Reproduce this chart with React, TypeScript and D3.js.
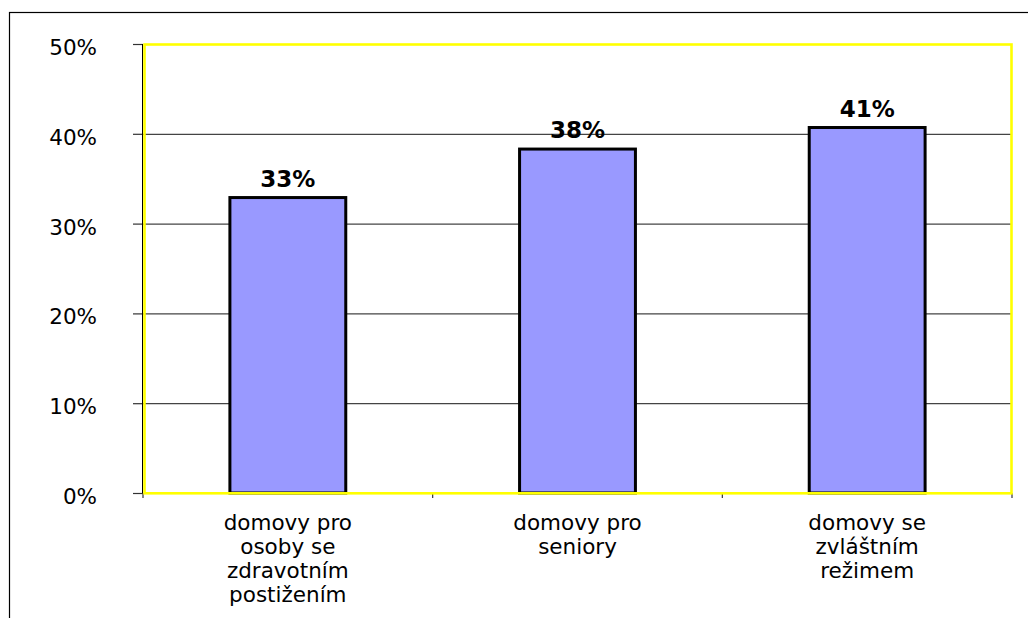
import React from "react";
import * as d3 from "d3";

const categories: string[][] = [
  ["domovy pro", "osoby se", "zdravotním", "postižením"],
  ["domovy pro", "seniory"],
  ["domovy se", "zvláštním", "režimem"],
];
const values: number[] = [32.9, 38.3, 40.7];
const valueLabels: string[] = ["33%", "38%", "41%"];
const yTicks: number[] = [0, 10, 20, 30, 40, 50];

const W = 1028;
const H = 618;
const left = 143;
const right = 1012;
const top = 44;
const bottom = 493;
const font = "'DejaVu Sans', Verdana, sans-serif";

export default function App() {
  const x = d3
    .scaleBand<number>()
    .domain(categories.map((_, i) => i))
    .range([left, right])
    .paddingInner(0.6)
    .paddingOuter(0.3);
  const y = d3.scaleLinear().domain([0, 50]).range([bottom, top]);
  const step = x.step();
  const boundaries = d3.range(categories.length + 1).map((i) => left + i * step);

  return (
    <svg
      width={W}
      height={H}
      style={{ position: "absolute", left: 0, top: 0, background: "#fff" }}
    >
      <rect x={9.5} y={12.5} width={1040} height={640} fill="#fff" stroke="#000" strokeWidth={1.2} />
      {/* gridlines */}
      {yTicks.slice(1, -1).map((t) => (
        <line
          key={"g" + t}
          x1={left}
          x2={right}
          y1={y(t) + 0.5}
          y2={y(t) + 0.5}
          stroke="#444"
          strokeWidth={1.3}
        />
      ))}
      {/* y tick marks and labels */}
      {yTicks.map((t) => (
        <g key={"t" + t}>
          <line x1={133} x2={left} y1={y(t) + 0.5} y2={y(t) + 0.5} stroke="#333" strokeWidth={1.2} />
          <text
            x={97}
            y={y(t) + 11}
            textAnchor="end"
            fontFamily={font}
            fontSize={21.5}
            fill="#000"
          >
            {t + "%"}
          </text>
        </g>
      ))}
      {/* x category boundary ticks */}
      {boundaries.map((bx, i) => (
        <line key={"xb" + i} x1={bx} x2={bx} y1={bottom} y2={bottom + 5} stroke="#333" strokeWidth={1.2} />
      ))}
      {/* bars */}
      {values.map((v, i) => (
        <rect
          key={"b" + i}
          x={x(i)!}
          y={y(v)}
          width={x.bandwidth()}
          height={y(0) - y(v)}
          fill="#9999FF"
          stroke="#000"
          strokeWidth={3}
        />
      ))}
      {/* plot area border */}
      <line x1={142.5} x2={142.5} y1={top} y2={bottom} stroke="#000" strokeWidth={1} />
      <rect
        x={144.5}
        y={44.5}
        width={1011.5 - 144.5}
        height={493.3 - 44.5}
        fill="none"
        stroke="#FFFF00"
        strokeWidth={2.6}
      />
      {/* value labels */}
      {values.map((v, i) => (
        <text
          key={"v" + i}
          x={x(i)! + x.bandwidth() / 2}
          y={y(v) - 11}
          textAnchor="middle"
          fontFamily={font}
          fontWeight="bold"
          fontSize={23}
          fill="#000"
        >
          {valueLabels[i]}
        </text>
      ))}
      {/* category labels */}
      {categories.map((lines, i) => (
        <text
          key={"c" + i}
          x={x(i)! + x.bandwidth() / 2}
          textAnchor="middle"
          fontFamily={font}
          fontSize={21.5}
          fill="#000"
        >
          {lines.map((ln, j) => (
            <tspan key={j} x={x(i)! + x.bandwidth() / 2} y={530 + j * 24}>
              {ln}
            </tspan>
          ))}
        </text>
      ))}
    </svg>
  );
}
